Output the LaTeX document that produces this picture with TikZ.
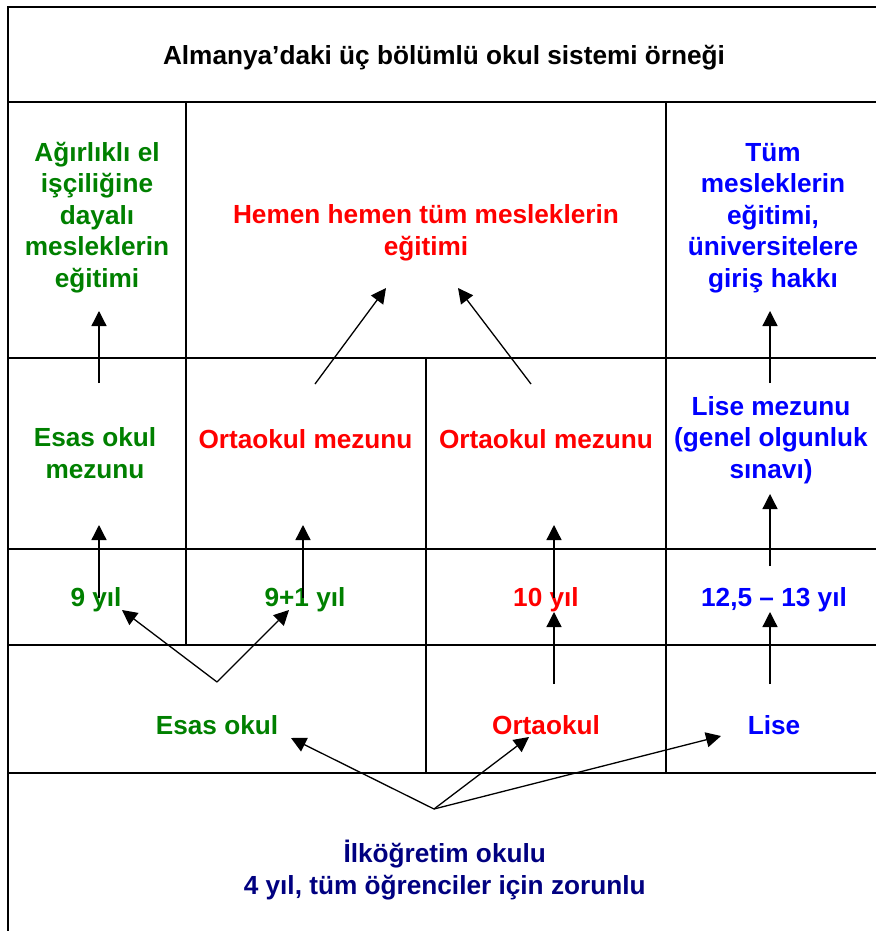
\documentclass[tikz,border=0pt]{standalone}
\usepackage{fontspec}
\setmainfont{Liberation Sans}
\usetikzlibrary{arrows.meta}

\definecolor{esasgreen}{RGB}{0,128,0}
\definecolor{ilknavy}{RGB}{0,0,128}

\tikzset{
  grid/.style={line width=2pt},
  lbl/.style={font=\bfseries\fontsize{26.2}{31.5}\selectfont, align=center, anchor=base, inner sep=0pt},
  up/.style={line width=1.3pt, -{Triangle[length=15pt,width=15pt]}}
}

\begin{document}
\begin{tikzpicture}[x=1pt,y=-1pt]

    \useasboundingbox (0,0) rectangle (876,931);

    % table
    \draw[grid] (8,931) -- (8,7) -- (876,7);
    \foreach \y in {102,358,549,645,773}
        \draw[grid] (8,\y) -- (876,\y);
    \draw[grid] (186,102) -- (186,645);
    \draw[grid] (426,358) -- (426,773);
    \draw[grid] (666,102) -- (666,773);

    % texts (base = last line)
    \node[lbl] (title) at (444,65) {Almanya’daki üç bölümlü okul sistemi örneği};

    \node[lbl, esasgreen] (elmeslek) at (97,287) {Ağırlıklı el\\işçiliğine\\dayalı\\mesleklerin\\eğitimi};
    \node[lbl, red] (hepsi) at (426,255) {Hemen hemen tüm mesleklerin\\eğitimi};
    \node[lbl, blue] (tummeslek) at (773,287) {Tüm\\mesleklerin\\eğitimi,\\üniversitelere\\giriş hakkı};

    \node[lbl, esasgreen] (esasmez) at (95,478) {Esas okul\\mezunu};
    \node[lbl, red] (ortamez) at (305.5,448) {Ortaokul mezunu};
    \node[lbl, red] (ortamezb) at (546,448) {Ortaokul mezunu};
    \node[lbl, blue] (lisemez) at (771,478) {Lise mezunu\\(genel olgunluk\\sınavı)};

    \node[lbl, esasgreen] (yil9) at (96,606.7) {9 yıl};
    \node[lbl, esasgreen] (yil91) at (305,606.7) {9+1 yıl};
    \node[lbl, red] (yil10) at (546,606.7) {10 yıl};
    \node[lbl, blue] (yil13) at (774,606.7) {12,5 – 13 yıl};

    \node[lbl, esasgreen] (esas) at (217,734.3) {Esas okul};
    \node[lbl, red] (orta) at (546,734.3) {Ortaokul};
    \node[lbl, blue] (lise) at (774,734.3) {Lise};

    \node[lbl, ilknavy] (ilk) at (444.7,894) {İlköğretim okulu\\4 yıl, tüm öğrenciler için zorunlu};

    % arrow ends
    \coordinate (esasmezTop) at (99,383);   \coordinate (elmeslekBot) at (99,311);
    \coordinate (lisemezTop) at (770,383);  \coordinate (tummeslekBot) at (770,311);
    \coordinate (ortamezTop) at (315,384);  \coordinate (hepsiL) at (386,288);
    \coordinate (ortamezbTop) at (531,384); \coordinate (hepsiR) at (458,288);

    \coordinate (yil9Top) at (99,598);      \coordinate (esasmezBot) at (99,525);
    \coordinate (yil91Top) at (303,598);    \coordinate (ortamezBot) at (303,525);
    \coordinate (yil10Top) at (554,598);    \coordinate (ortamezbBot) at (554,525);
    \coordinate (yil13Top) at (770,566);    \coordinate (lisemezBot) at (770,494);

    \coordinate (esasTop) at (217,682);
    \coordinate (yil9Bot) at (122,610);     \coordinate (yil91Bot) at (289,610);
    \coordinate (ortaTop) at (554,684);     \coordinate (yil10Bot) at (554,612);
    \coordinate (liseTop) at (770,684);     \coordinate (yil13Bot) at (770,612);

    \coordinate (ilkTop) at (434,809);
    \coordinate (esasR) at (291,738); \coordinate (ortaL) at (529,737); \coordinate (liseL) at (721,736);

    % arrows
    \draw[up] (esasmezTop) -- (elmeslekBot);
    \draw[up] (lisemezTop) -- (tummeslekBot);
    \draw[up] (ortamezTop) -- (hepsiL);
    \draw[up] (ortamezbTop) -- (hepsiR);

    \draw[up] (yil9Top) -- (esasmezBot);
    \draw[up] (yil91Top) -- (ortamezBot);
    \draw[up] (yil10Top) -- (ortamezbBot);
    \draw[up] (yil13Top) -- (lisemezBot);

    \draw[up] (esasTop) -- (yil9Bot);
    \draw[up] (esasTop) -- (yil91Bot);
    \draw[up] (ortaTop) -- (yil10Bot);
    \draw[up] (liseTop) -- (yil13Bot);

    \draw[up] (ilkTop) -- (esasR);
    \draw[up] (ilkTop) -- (ortaL);
    \draw[up] (ilkTop) -- (liseL);

\end{tikzpicture}
\end{document}
